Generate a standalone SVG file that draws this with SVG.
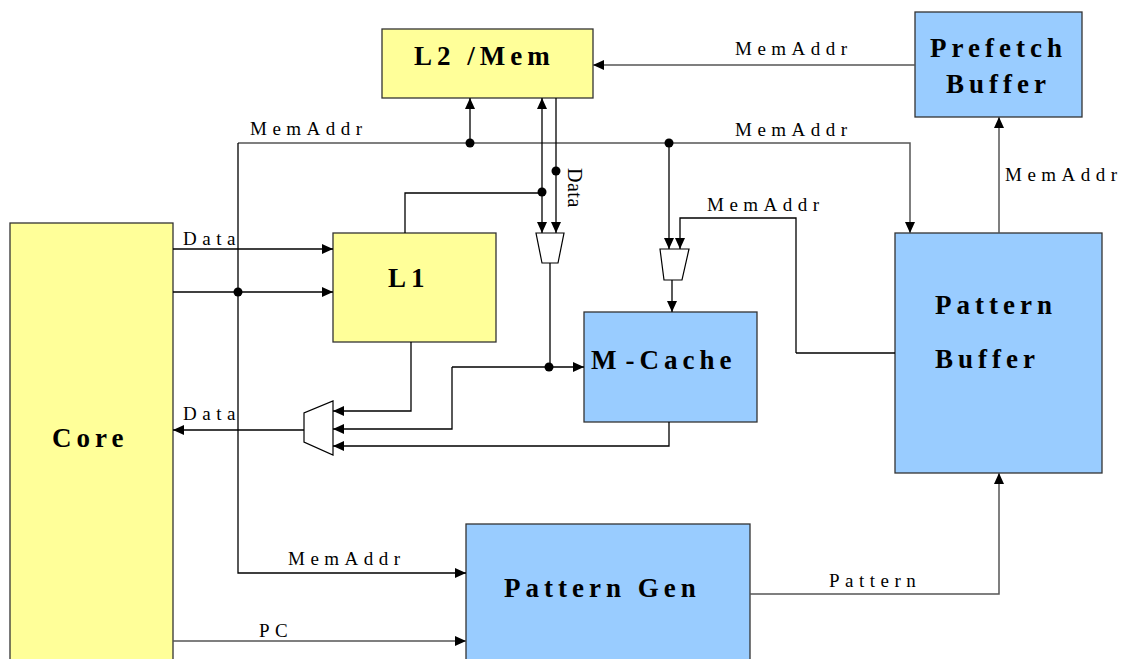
<svg xmlns="http://www.w3.org/2000/svg" width="1125" height="659" viewBox="0 0 1125 659">
<defs>
<marker id="ah" markerUnits="userSpaceOnUse" markerWidth="12" markerHeight="10" refX="11" refY="5" orient="auto-start-reverse"><path d="M0,0 L11,5 L0,10 Z" fill="#000"/></marker>
<style>
.y{fill:#ffff99;stroke:#333;stroke-width:1.3}
.b{fill:#99ccff;stroke:#333;stroke-width:1.3}
.t{font-family:"Liberation Serif","Times New Roman",serif;font-weight:bold;font-size:27px;letter-spacing:5px;fill:#000}
.l{font-family:"Liberation Serif","Times New Roman",serif;font-size:19px;letter-spacing:5.5px;fill:#000}
.k{fill:none;stroke:#000;stroke-width:1.3}
.g{fill:none;stroke:#555;stroke-width:1.5}
.a{marker-end:url(#ah)}
.dot{fill:#000}
.mux{fill:#fff;stroke:#000;stroke-width:1.2}
</style>
</defs>
<rect width="1125" height="659" fill="#fff"/>
<g id="core"><rect class="y" x="10" y="223" width="163" height="460"/><text class="t" x="52" y="447">Core</text></g>
<g id="l2mem"><rect class="y" x="382" y="29" width="211" height="69"/><text class="t" x="414" y="65">L2 /Mem</text></g>
<g id="prefetch"><rect class="b" x="915" y="12" width="167" height="105"/><text class="t" x="930" y="57">Prefetch</text><text class="t" x="946" y="93">Buffer</text></g>
<g id="l1"><rect class="y" x="333" y="233" width="163" height="109"/><text class="t" x="388" y="287">L1</text></g>
<g id="mcache"><rect class="b" x="584" y="312" width="173" height="110"/><text class="t" x="591" y="369">M<tspan dx="4">-Cache</tspan></text></g>
<g id="pbuffer"><rect class="b" x="895" y="233" width="207" height="240"/><text class="t" x="935" y="314">Pattern</text><text class="t" x="935" y="368">Buffer</text></g>
<g id="pgen"><rect class="b" x="466" y="524" width="284" height="150"/><text class="t" x="504" y="597">Pattern Gen</text></g>
<g id="mux1"><polygon class="mux" points="536,233 564,233 558,263 542,263"/></g>
<g id="mux2"><polygon class="mux" points="333,401 333,455 304,442 304,413"/></g>
<g id="mux3"><polygon class="mux" points="660,249 689,249 682,280 664,280"/></g>
<g id="connectors">
<polyline class="k a" points="173,249 333,249"/>
<polyline class="k a" points="173,292 333,292"/>
<polyline class="g a" points="238,143 910,143 910,233"/>
<polyline class="k a" points="238,143 238,573 466,573"/>
<polyline class="k a" points="470,143 470,98"/>
<polyline class="k a" points="669,143 669,249"/>
<line class="k" x1="542" y1="98" x2="542" y2="233" marker-start="url(#ah)" marker-end="url(#ah)"/>
<polyline class="k a" points="556,98 556,233"/>
<polyline class="k" points="405,233 405,193 542,193"/>
<polyline class="k" points="550,263 550,367"/>
<polyline class="k a" points="452,367 584,367"/>
<polyline class="k a" points="452,367 452,429 333,429"/>
<polyline class="k a" points="411,342 411,411 333,411"/>
<polyline class="k a" points="669,422 669,446 333,446"/>
<polyline class="k a" points="304,430 173,430"/>
<polyline class="k a" points="796,353 796,218 680,218 680,249"/>
<polyline class="k" points="895,353 796,353"/>
<polyline class="k a" points="672,280 672,312"/>
<polyline class="g a" points="915,65 593,65"/>
<polyline class="g a" points="999,233 999,117"/>
<polyline class="g a" points="750,594 999,594 999,473"/>
<polyline class="g a" points="173,641 466,641"/>
<circle class="dot" cx="238" cy="292" r="4.5"/>
<circle class="dot" cx="470" cy="143" r="4.5"/>
<circle class="dot" cx="669" cy="143" r="4.5"/>
<circle class="dot" cx="556" cy="171" r="4.5"/>
<circle class="dot" cx="542" cy="192" r="4.5"/>
<circle class="dot" cx="549" cy="367" r="4.5"/>
<text class="l" x="250" y="135">MemAddr</text>
<text class="l" x="735" y="136">MemAddr</text>
<text class="l" x="735" y="55">MemAddr</text>
<text class="l" x="707" y="211">MemAddr</text>
<text class="l" x="1005" y="181">MemAddr</text>
<text class="l" x="288" y="565">MemAddr</text>
<text class="l" x="183" y="245">Data</text>
<text class="l" x="183" y="420">Data</text>
<text class="l" x="259" y="637">PC</text>
<text class="l" x="829" y="587">Pattern</text>
<text class="l" style="letter-spacing:0.5px;font-size:20px" transform="translate(568,168) rotate(90)">Data</text>
</g>
</svg>
